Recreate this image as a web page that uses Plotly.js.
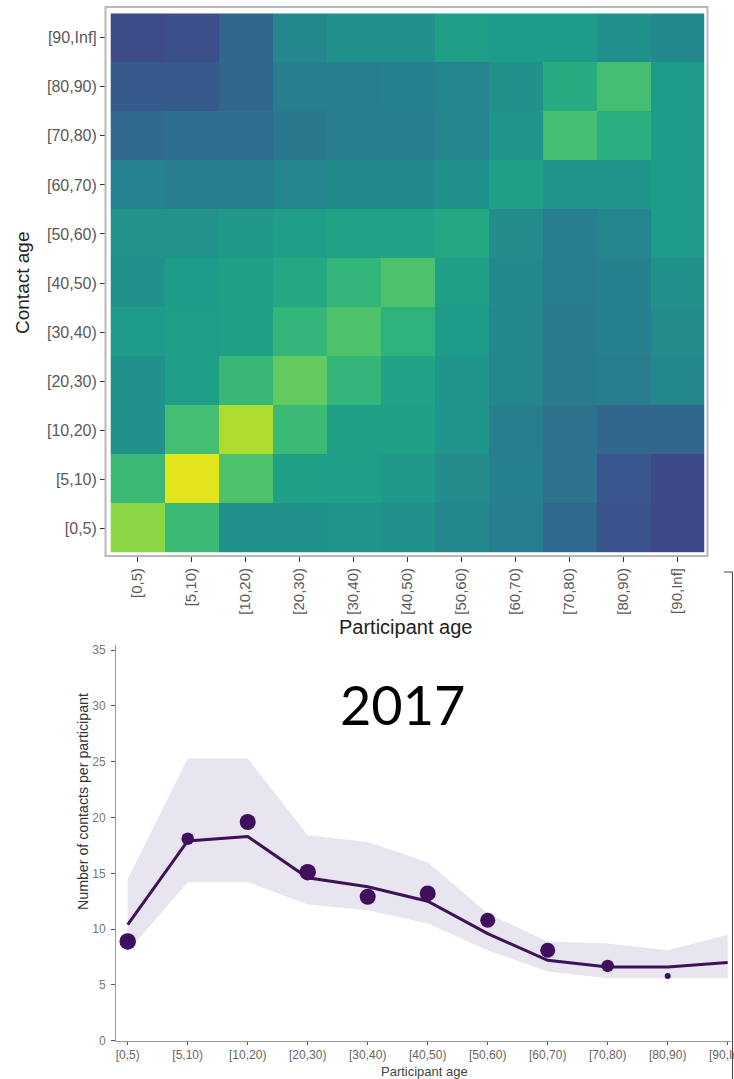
<!DOCTYPE html>
<html>
<head>
<meta charset="utf-8">
<script src="https://cdn.plot.ly/plotly-3.0.1.min.js"></script>
<style>html,body{margin:0;padding:0;background:#fff;}#chart{width:734px;height:1079px;}</style>
</head>
<body>
<div id="chart"></div>
<script>
// ---------- data ----------
const ageGroups = ["[0,5)", "[5,10)", "[10,20)", "[20,30)", "[30,40)", "[40,50)", "[50,60)", "[60,70)", "[70,80)", "[80,90)", "[90,Inf]"];
const lineAgeLabels = ["[0,5)", "[5,10)", "[10,20)", "[20,30)", "[30,40)", "[40,50)", "[50,60)", "[60,70)", "[70,80)", "[80,90)", "[90,Inf)"];

// contact intensity (relative, viridis 0..1); rows = contact age from [0,5) upward, cols = participant age
const row_0_5   = [0.83, 0.68, 0.50, 0.50, 0.52, 0.50, 0.46, 0.42, 0.34, 0.26, 0.22];
const row_5_10  = [0.68, 0.96, 0.72, 0.57, 0.56, 0.53, 0.48, 0.43, 0.38, 0.27, 0.22];
const row_10_20 = [0.50, 0.70, 0.88, 0.68, 0.57, 0.57, 0.52, 0.42, 0.38, 0.33, 0.33];
const row_20_30 = [0.50, 0.56, 0.67, 0.76, 0.66, 0.58, 0.52, 0.46, 0.41, 0.42, 0.46];
const row_30_40 = [0.55, 0.56, 0.57, 0.66, 0.72, 0.64, 0.55, 0.46, 0.41, 0.43, 0.48];
const row_40_50 = [0.50, 0.55, 0.57, 0.60, 0.66, 0.72, 0.57, 0.47, 0.42, 0.43, 0.50];
const row_50_60 = [0.51, 0.51, 0.53, 0.56, 0.58, 0.58, 0.60, 0.48, 0.42, 0.45, 0.55];
const row_60_70 = [0.44, 0.42, 0.42, 0.45, 0.47, 0.47, 0.50, 0.57, 0.52, 0.52, 0.55];
const row_70_80 = [0.34, 0.36, 0.36, 0.40, 0.42, 0.42, 0.45, 0.52, 0.70, 0.63, 0.55];
const row_80_90 = [0.28, 0.28, 0.33, 0.42, 0.42, 0.43, 0.45, 0.50, 0.62, 0.70, 0.55];
const row_90_inf= [0.23, 0.24, 0.33, 0.46, 0.50, 0.50, 0.56, 0.55, 0.55, 0.50, 0.47];

// contacts per participant (2017)
const observed   = [8.9, 18.1, 19.6, 15.1, 12.9, 13.2, 10.8, 8.1, 6.7, 5.8, null];
const sampleSize = [16.5, 12.5, 16, 16.5, 16, 16, 15, 15, 12.5, 6, 0];
const fitted     = [10.4, 17.9, 18.3, 14.6, 13.8, 12.5, 9.6, 7.2, 6.6, 6.6, 7.0];
const upperBand  = [14.5, 25.3, 25.3, 18.4, 17.8, 16.0, 11.4, 8.9, 8.7, 8.1, 9.5];
const lowerBand  = [8.0, 14.2, 14.2, 12.2, 11.7, 10.5, 8.1, 6.2, 5.6, 5.6, 5.6];
const yearLabel = "2017";

// ---------- helpers ----------
const W = 734, H = 1079;
const px = x => x / W;
const py = y => 1 - y / H;

const zMatrix = [row_0_5, row_5_10, row_10_20, row_20_30, row_30_40, row_40_50,
                 row_50_60, row_60_70, row_70_80, row_80_90, row_90_inf];

const FONT = "Liberation Sans, Arial, sans-serif";

const traces = [
  {
    type: "heatmap", x: ageGroups, y: ageGroups, z: zMatrix,
    colorscale: "Viridis", zmin: 0, zmax: 1, showscale: false,
    xaxis: "x", yaxis: "y", hoverinfo: "skip"
  },
  {
    type: "scatter", mode: "lines", x: lineAgeLabels, y: lowerBand,
    line: {width: 0, color: "rgba(0,0,0,0)"}, xaxis: "x2", yaxis: "y2",
    showlegend: false, hoverinfo: "skip"
  },
  {
    type: "scatter", mode: "lines", x: lineAgeLabels, y: upperBand,
    fill: "tonexty", fillcolor: "#E8E4F0",
    line: {width: 0, color: "rgba(0,0,0,0)"}, xaxis: "x2", yaxis: "y2",
    showlegend: false, hoverinfo: "skip"
  },
  {
    type: "scatter", mode: "lines", x: lineAgeLabels, y: fitted,
    line: {width: 3, color: "#3E1256"}, xaxis: "x2", yaxis: "y2",
    showlegend: false
  },
  {
    type: "scatter", mode: "markers", x: lineAgeLabels, y: observed,
    marker: {size: sampleSize, color: "#3F0F5C", opacity: 1, line: {width: 0}},
    xaxis: "x2", yaxis: "y2", showlegend: false
  }
];

const layout = {
  width: W, height: H,
  margin: {l: 0, r: 0, t: 0, b: 0},
  paper_bgcolor: "#fff", plot_bgcolor: "rgba(0,0,0,0)",
  showlegend: false,
  font: {family: FONT},
  xaxis: {
    domain: [px(110.5), px(704.5)], anchor: "free", position: py(556),
    type: "category", categoryorder: "array", categoryarray: ageGroups,
    tickangle: -90, ticks: "outside", ticklen: 5, tickwidth: 1, tickcolor: "#333",
    tickfont: {size: 15, color: "#5a5a5a", family: FONT},
    showline: false, showgrid: false, zeroline: false, fixedrange: true
  },
  yaxis: {
    domain: [py(552.7), py(13.3)], anchor: "free", position: px(105),
    type: "category", categoryorder: "array", categoryarray: ageGroups,
    ticks: "outside", ticklen: 5, tickwidth: 1, tickcolor: "#333",
    tickfont: {size: 16, color: "#5a5a5a", family: FONT},
    showline: false, showgrid: false, zeroline: false, fixedrange: true
  },
  xaxis2: {
    domain: [px(116), px(731)], anchor: "y2",
    type: "category", categoryorder: "array", categoryarray: lineAgeLabels,
    range: [-0.195, 10.055],
    ticks: "outside", ticklen: 3, tickwidth: 1, tickcolor: "#555",
    tickfont: {size: 12, color: "#666", family: FONT},
    showline: true, linecolor: "#999", linewidth: 1,
    showgrid: false, zeroline: false, fixedrange: true
  },
  yaxis2: {
    domain: [py(1040.7), py(645)], anchor: "x2",
    range: [0, 35.46], tickvals: [0, 5, 10, 15, 20, 25, 30, 35],
    ticks: "outside", ticklen: 4, tickwidth: 1, tickcolor: "#555",
    ticklabelstandoff: 3,
    tickfont: {size: 12, color: "#777", family: FONT},
    showline: true, linecolor: "#999", linewidth: 1,
    showgrid: false, zeroline: false, fixedrange: true
  },
  shapes: [
    {type: "rect", xref: "paper", yref: "paper",
     x0: px(105.5), x1: px(707.5), y0: py(556), y1: py(7),
     line: {color: "#B8B8B8", width: 2}, fillcolor: "rgba(0,0,0,0)"},
    {type: "line", xref: "paper", yref: "paper",
     x0: px(724), x1: px(732.5), y0: py(572), y1: py(572),
     line: {color: "#444", width: 1}},
    {type: "line", xref: "paper", yref: "paper",
     x0: px(732.5), x1: px(732.5), y0: py(572), y1: py(1079),
     line: {color: "#444", width: 1}}
  ],
  annotations: [
    {text: "Contact age", xref: "paper", yref: "paper", x: px(22), y: py(283),
     textangle: -90, showarrow: false, xanchor: "center", yanchor: "middle",
     font: {size: 19, color: "#222", family: FONT}},
    {text: "Participant age", xref: "paper", yref: "paper", x: px(406), y: py(627),
     showarrow: false, xanchor: "center", yanchor: "middle",
     font: {size: 20, color: "#222", family: FONT}},
    {text: yearLabel, xref: "paper", yref: "paper", x: px(403), y: py(704),
     showarrow: false, xanchor: "center", yanchor: "middle",
     font: {size: 54, color: "#000", family: "Lato, Open Sans, sans-serif"}},
    {text: "Number of contacts per participant", xref: "paper", yref: "paper",
     x: px(83), y: py(802), textangle: -90, showarrow: false,
     xanchor: "center", yanchor: "middle",
     font: {size: 14.2, color: "#333", family: FONT}},
    {text: "Participant age", xref: "paper", yref: "paper", x: px(424), y: py(1071),
     showarrow: false, xanchor: "center", yanchor: "middle",
     font: {size: 13, color: "#444", family: FONT}}
  ]
};

Plotly.newPlot("chart", traces, layout, {displayModeBar: false, staticPlot: true});
</script>
</body>
</html>
